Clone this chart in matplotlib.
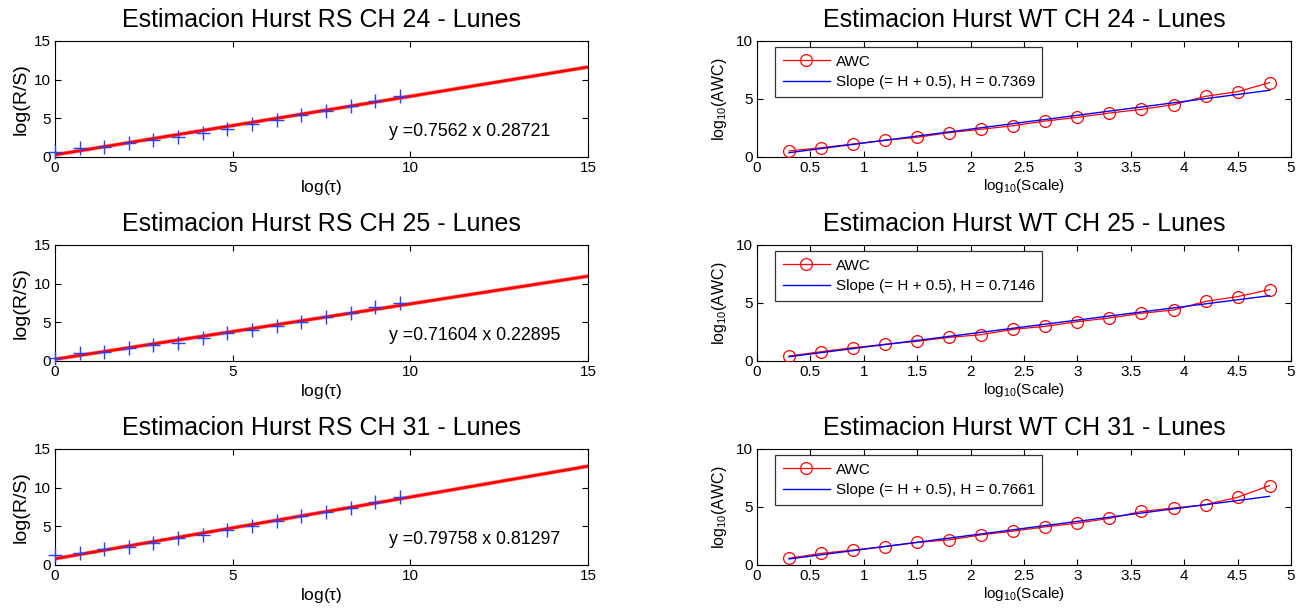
import matplotlib
matplotlib.use("Agg")
import matplotlib.pyplot as plt

plt.rcParams['font.family'] = ['Liberation Sans', 'DejaVu Sans']
plt.rcParams['mathtext.fontset'] = 'custom'
plt.rcParams['mathtext.rm'] = 'Liberation Sans'
plt.rcParams['mathtext.it'] = 'Liberation Sans:italic'
plt.rcParams['mathtext.default'] = 'regular'

# ---------------- data ----------------
channels = ["24", "25", "31"]

# R/S analysis (left column)
rs_log_tau = [0.0, 0.69, 1.39, 2.08, 2.77, 3.47, 4.16, 4.85, 5.55, 6.24,
              6.93, 7.62, 8.32, 9.01, 9.70]
rs_ch24 = [0.6, 1.12, 1.34, 1.85, 2.16, 2.63, 3.15, 3.58, 4.22, 4.78,
           5.39, 5.95, 6.6, 7.24, 7.85]
rs_ch25 = [0.45, 0.99, 1.2, 1.72, 2.07, 2.37, 2.93, 3.58, 4.0, 4.57,
           5.09, 5.65, 6.25, 6.94, 7.45]
rs_ch31 = [1.3, 1.6, 2.04, 2.39, 2.83, 3.43, 3.91, 4.48, 5.09, 5.65,
           6.3, 6.83, 7.39, 8.2, 8.85]
rs_slopes = [0.7562, 0.71604, 0.79758]
rs_intercepts = [0.28721, 0.22895, 0.81297]
rs_labels = ["y =0.7562 x 0.28721", "y =0.71604 x 0.22895", "y =0.79758 x 0.81297"]
rs_fit_x = [0.0, 15.0]

# Wavelet AWC analysis (right column)
wt_log_scale = [0.3, 0.6, 0.9, 1.2, 1.5, 1.8, 2.1, 2.4, 2.7, 3.0,
                3.3, 3.6, 3.9, 4.2, 4.5, 4.8]
wt_ch24 = [0.52, 0.8, 1.12, 1.44, 1.7, 2.1, 2.39, 2.7, 3.1, 3.42,
           3.79, 4.11, 4.51, 5.23, 5.63, 6.41]
wt_ch25 = [0.43, 0.8, 1.15, 1.44, 1.7, 2.04, 2.27, 2.73, 2.99, 3.39,
           3.71, 4.11, 4.4, 5.14, 5.55, 6.15]
wt_ch31 = [0.58, 1.0, 1.29, 1.59, 1.94, 2.17, 2.6, 2.92, 3.29, 3.61,
           4.02, 4.62, 4.91, 5.2, 5.84, 6.85]
wt_fit_x = [0.3, 4.8]
wt_fit_ch24 = [0.37, 5.75]
wt_fit_ch25 = [0.37, 5.63]
wt_fit_ch31 = [0.52, 5.92]
wt_H = ["0.7369", "0.7146", "0.7661"]

rs_series = [rs_ch24, rs_ch25, rs_ch31]
wt_series = [wt_ch24, wt_ch25, wt_ch31]
wt_fits = [wt_fit_ch24, wt_fit_ch25, wt_fit_ch31]

# ---------------- figure ----------------
W, H = 1302, 611
fig = plt.figure(figsize=(W / 100, H / 100), dpi=100)

row_tops = [41, 245, 449]
ax_h = 116
left_x0, left_w = 55, 533
right_x0, right_w = 757, 534


def make_ax(x0, w, top):
    return fig.add_axes([x0 / W, 1 - (top + ax_h) / H, w / W, ax_h / H])


def style(ax, fs):
    ax.tick_params(direction='in', top=True, right=True, labelsize=fs,
                   length=4, width=0.8, pad=3)
    for s in ax.spines.values():
        s.set_linewidth(0.8)


for i in range(3):
    # ---- left: R/S ----
    ax = make_ax(left_x0, left_w, row_tops[i])
    fit_y = [rs_slopes[i] * x + rs_intercepts[i] for x in rs_fit_x]
    ax.plot(rs_fit_x, fit_y, color=(1.0, 0.6, 0.6), lw=3.0, zorder=2,
            solid_capstyle='butt')
    ax.plot(rs_fit_x, fit_y, color='red', lw=2.0, zorder=3,
            solid_capstyle='butt')
    ax.plot(rs_log_tau, rs_series[i], linestyle='none', marker='+',
            color=(0.15, 0.25, 1.0), markersize=10, markeredgewidth=1.0,
            zorder=4, clip_on=False)
    ax.set_xlim(0, 15)
    ax.set_ylim(0, 15)
    ax.set_xticks([0, 5, 10, 15])
    ax.set_yticks([0, 5, 10, 15])
    style(ax, 11)
    ax.set_ylabel("log(R/S)", fontsize=14, labelpad=3)
    ax.set_xlabel(r"log($\tau$)", fontsize=12.5, labelpad=2)
    ax.set_title("Estimacion Hurst RS CH %s - Lunes" % channels[i],
                 fontsize=18, pad=10)
    ax.text(9.4, 3.25, rs_labels[i], fontsize=12.8, ha='left', va='center')

    # ---- right: wavelet ----
    ax = make_ax(right_x0, right_w, row_tops[i])
    ax.plot(wt_log_scale, wt_series[i], color='red', lw=0.9, marker='o',
            markerfacecolor='none', markeredgecolor='red', markersize=8.5,
            markeredgewidth=0.9, label="AWC", zorder=3)
    ax.plot(wt_fit_x, wt_fits[i], color='blue', lw=1.0,
            label="Slope (= H + 0.5), H = %s" % wt_H[i], zorder=4)
    ax.set_xlim(0, 5)
    ax.set_ylim(0, 10)
    ax.set_xticks([0, 0.5, 1, 1.5, 2, 2.5, 3, 3.5, 4, 4.5, 5])
    ax.set_xticklabels(["0", "0.5", "1", "1.5", "2", "2.5", "3", "3.5",
                        "4", "4.5", "5"])
    ax.set_yticks([0, 5, 10])
    style(ax, 11)
    ax.set_ylabel(r"log$_{10}$(AWC)", fontsize=11.5, labelpad=5)
    ax.set_xlabel(r"log$_{10}$(Scale)", fontsize=11, labelpad=1)
    ax.set_title("Estimacion Hurst WT CH %s - Lunes" % channels[i],
                 fontsize=18, pad=10)
    leg = ax.legend(loc='upper left', fontsize=11, frameon=True, fancybox=False,
                    edgecolor='black', handlelength=3.1, borderpad=0.5,
                    labelspacing=0.42, handletextpad=0.35, borderaxespad=0.0,
                    bbox_to_anchor=(0.034, 0.948))
    leg.get_frame().set_linewidth(0.9)

fig.savefig("out.png", dpi=100)
